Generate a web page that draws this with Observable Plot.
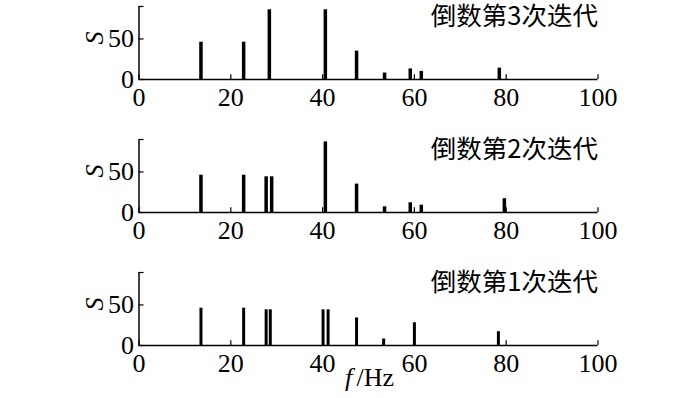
<!DOCTYPE html>
<html>
<head>
<meta charset="utf-8">
<script src="https://cdn.jsdelivr.net/npm/d3@7"></script>
<script src="https://cdn.jsdelivr.net/npm/@observablehq/plot@0.6"></script>
<style>
  html, body { margin: 0; padding: 0; background: #fff; }
  #chart { width: 700px; }
  #chart svg { display: block; }
</style>
</head>
<body>
<div id="chart"></div>
<script>
// Panel titles
const titles = ["倒数第3次迭代", "倒数第2次迭代", "倒数第1次迭代"];

// Frequencies (Hz) and amplitudes S for each panel
const freq3 = [13.5, 22.8, 28.4, 40.6, 47.4, 53.5, 59.1, 61.5, 78.5];
const amp3  = [46,   46,   86,   86,   35,   8,    13,   10,   14];

const freq2 = [13.5, 22.8, 27.7, 28.9, 40.6, 47.4, 53.5, 59.1, 61.5, 79.6];
const amp2  = [46,   46,   44,   44,   87,   35,   7,    12,   9,    17];

const freq1 = [13.5, 22.8, 27.7, 28.6, 40.1, 41.2, 47.4, 53.3, 60.0, 78.3];
const amp1  = [46,   46,   44,   44,   44,   44,   34,   8,    28,   17];

// Axis ticks
const xTicks = [0, 20, 40, 60, 80, 100];
const yTicks = [0, 50];
const yMax = 90;

const serif = "'Liberation Serif', 'Times New Roman', serif";
const cjk = "'Noto Sans CJK SC', sans-serif";

function panel(freqs, amps, title, cfg) {
  const data = freqs.map((f, i) => ({f, s: amps[i]}));
  return Plot.plot({
    width: 700,
    height: cfg.height,
    marginLeft: 138.5,
    marginRight: 102.5,
    marginTop: cfg.marginTop,
    marginBottom: cfg.marginBottom,
    style: {fontFamily: serif, fontSize: "26px", color: "#000", background: "#fff", overflow: "visible"},
    x: {domain: [0, 100], axis: null},
    y: {domain: [0, yMax], axis: null},
    marks: [
      // bars
      Plot.ruleX(data, {x: "f", y1: 0, y2: "s", stroke: "#000", strokeWidth: cfg.barWidth}),
      // axis lines
      Plot.ruleY([0], {x1: 0, x2: 100, stroke: "#000", strokeWidth: 1.5}),
      Plot.ruleX([0], {y1: 0, y2: yMax, stroke: "#000", strokeWidth: 1.5}),
      // inward x ticks
      Plot.ruleX(xTicks, {x: d => d, y1: 0, y2: 6, stroke: "#000", strokeWidth: 1.2}),
      // inward y ticks
      Plot.ruleY([...yTicks, yMax], {y: d => d, x1: 0, x2: 1.1, stroke: "#000", strokeWidth: 1.2}),
      // tick labels
      Plot.axisX({ticks: xTicks, tickSize: 0, tickPadding: 8, fontSize: 26, label: null, tickFormat: d => String(d)}),
      Plot.axisY({ticks: yTicks, tickSize: 0, tickPadding: 5, fontSize: 26, label: null, tickFormat: d => String(d)}),
      // y label S
      Plot.text(["S"], {x: 0, y: 50, dx: -44, dy: -1, rotate: -90, fontStyle: "italic", fontSize: 26, fontFamily: serif, fill: "#000"}),
      // panel title
      Plot.text([title], {frameAnchor: "top-right", lineAnchor: "top", dy: 0, fontSize: 25.5, fontFamily: cjk, fill: "#000"}),
      ...(cfg.xlabel ? [
        Plot.text(["f"], {x: 50, y: 0, dx: -20, dy: 22, lineAnchor: "top", textAnchor: "middle", fontStyle: "italic", fontSize: 26, fontFamily: serif, fill: "#000"}),
        Plot.text(["/Hz"], {x: 50, y: 0, dx: -12, dy: 22, lineAnchor: "top", textAnchor: "start", fontSize: 26, fontFamily: serif, fill: "#000"})
      ] : [])
    ]
  });
}

const el = document.getElementById("chart");
el.append(panel(freq3, amp3, titles[0], {height: 133, marginTop: 6, marginBottom: 54, barWidth: 3.5}));
el.append(panel(freq2, amp2, titles[1], {height: 133, marginTop: 6, marginBottom: 54, barWidth: 3.5}));
el.append(panel(freq1, amp1, titles[2], {height: 132, marginTop: 6, marginBottom: 53, barWidth: 3, xlabel: true}));
</script>
</body>
</html>
